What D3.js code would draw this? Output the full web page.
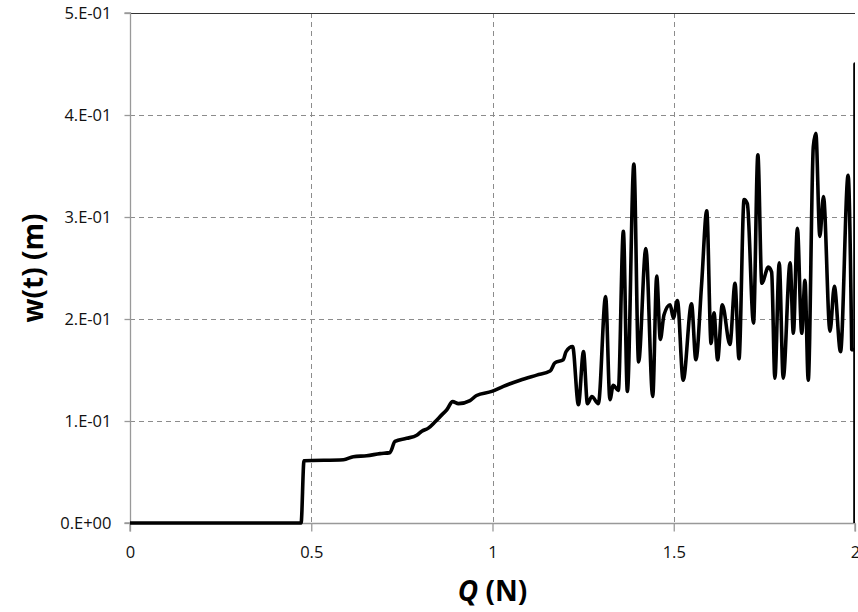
<!DOCTYPE html>
<html><head><meta charset="utf-8">
<script src="https://cdn.jsdelivr.net/npm/d3@7/dist/d3.min.js"></script>
<style>body{margin:0;background:#fff;} svg{display:block;}</style>
</head><body>
<svg id="chart" width="858" height="612"></svg>
<script>
// ---- data ----
const qValues = [0, 0.472, 0.480, 0.589, 0.616, 0.653, 0.690, 0.717, 0.731, 0.763, 0.791, 0.805, 0.823, 0.841, 0.860, 0.874, 0.890, 0.906, 0.938, 0.956, 0.998, 1.030, 1.076, 1.122, 1.159, 1.172, 1.195, 1.203, 1.221, 1.237, 1.251, 1.262, 1.274, 1.292, 1.312, 1.324, 1.333, 1.347, 1.361, 1.372, 1.390, 1.403, 1.423, 1.442, 1.453, 1.463, 1.473, 1.490, 1.499, 1.510, 1.526, 1.549, 1.561, 1.577, 1.591, 1.603, 1.611, 1.621, 1.634, 1.655, 1.669, 1.680, 1.694, 1.703, 1.720, 1.732, 1.743, 1.761, 1.770, 1.779, 1.791, 1.802, 1.821, 1.830, 1.841, 1.853, 1.862, 1.871, 1.885, 1.892, 1.903, 1.913, 1.931, 1.943, 1.960, 1.981, 1.991];
const wValues = [0, 0, 0.061, 0.062, 0.065, 0.066, 0.068, 0.069, 0.080, 0.083, 0.086, 0.090, 0.093, 0.099, 0.106, 0.111, 0.119, 0.117, 0.120, 0.125, 0.129, 0.134, 0.140, 0.145, 0.149, 0.157, 0.160, 0.168, 0.173, 0.116, 0.168, 0.117, 0.124, 0.117, 0.222, 0.121, 0.135, 0.130, 0.286, 0.129, 0.352, 0.158, 0.269, 0.124, 0.242, 0.180, 0.204, 0.214, 0.201, 0.218, 0.140, 0.215, 0.160, 0.235, 0.306, 0.176, 0.206, 0.160, 0.214, 0.175, 0.235, 0.161, 0.317, 0.313, 0.196, 0.361, 0.235, 0.251, 0.246, 0.142, 0.255, 0.142, 0.255, 0.186, 0.289, 0.186, 0.238, 0.140, 0.369, 0.382, 0.281, 0.320, 0.188, 0.232, 0.168, 0.341, 0.170];
// final jump at the right edge (x = 2)
const edgeQ = [1.991, 2.0, 2.0, 2.0];
const edgeW = [0.170, 0.170, 0.450, 0.0];
const xTicks = [0, 0.5, 1, 1.5, 2];
const xTickLabels = ["0", "0.5", "1", "1.5", "2"];
const yTicks = [0, 0.1, 0.2, 0.3, 0.4, 0.5];
const yTickLabels = ["0.E+00", "1.E-01", "2.E-01", "3.E-01", "4.E-01", "5.E-01"];
const xTitleItalic = "Q";
const xTitleRest = " (N)";
const yTitle = "w(t) (m)";

// ---- layout ----
const svg = d3.select("#chart");
const mL = 130, mR = 855, mT = 13, mB = 523;
const x = d3.scaleLinear().domain([0, 2]).range([mL, mR]);
const y = d3.scaleLinear().domain([0, 0.5]).range([mB, mT]);
const font = "'Open Sans', 'Liberation Sans', sans-serif";

// gridlines
const grid = svg.append("g");
grid.selectAll("line.h").data(yTicks.filter(d => d > 0 && d < 0.5)).join("line")
  .attr("x1", mL).attr("x2", mR)
  .attr("y1", d => y(d) + 0.5).attr("y2", d => y(d) + 0.5)
  .attr("stroke", "#8c8c8c").attr("stroke-width", 1).attr("stroke-dasharray", "5,4");
grid.selectAll("line.v").data(xTicks.filter(d => d > 0 && d < 2)).join("line")
  .attr("x1", d => Math.round(x(d)) + 0.5).attr("x2", d => Math.round(x(d)) + 0.5)
  .attr("y1", mT).attr("y2", mB)
  .attr("stroke", "#8c8c8c").attr("stroke-width", 1).attr("stroke-dasharray", "5,4");
// top line
svg.append("line").attr("x1", mL).attr("x2", mR)
  .attr("y1", y(0.5) + 0.5).attr("y2", y(0.5) + 0.5)
  .attr("stroke", "#333").attr("stroke-width", 1.2);

// axes
const yAxis = d3.axisLeft(y).tickValues(yTicks).tickSize(6).tickPadding(13)
  .tickFormat((d, i) => yTickLabels[i]);
const gy = svg.append("g").attr("transform", `translate(${mL + 0.5},0)`).call(yAxis);
const xAxis = d3.axisBottom(x).tickValues(xTicks).tickSize(8).tickPadding(15)
  .tickFormat((d, i) => xTickLabels[i]);
const gx = svg.append("g").attr("transform", `translate(0,${mB + 0.5})`).call(xAxis);
[gx, gy].forEach(g => {
  g.select(".domain").attr("stroke", "#999").attr("stroke-width", 1.3);
  g.selectAll(".tick line").attr("stroke", "#999").attr("stroke-width", 1.3);
  g.selectAll(".tick text").attr("font-family", font).attr("font-size", 16.5).attr("fill", "#111");
});
gy.select(".domain").attr("d", `M-6,${mB}H0V${mT}H-6`);
gx.select(".domain").attr("d", `M${mL},8V0H${mR}V8`);

// clip
svg.append("clipPath").attr("id", "plotclip").append("rect")
  .attr("x", mL).attr("y", mT - 5).attr("width", mR - mL).attr("height", mB - mT + 10);

const pts = qValues.map((q, i) => [q, wValues[i]]);
const line = d3.line().x(d => x(d[0])).y(d => y(d[1])).curve(d3.curveMonotoneX);
svg.append("path").attr("d", line(pts)).attr("clip-path", "url(#plotclip)")
  .attr("fill", "none").attr("stroke", "#000").attr("stroke-width", 3.6)
  .attr("stroke-linejoin", "round").attr("stroke-linecap", "round");
const edgePts = edgeQ.map((q, i) => [q, edgeW[i]]);
const edgeLine = d3.line().x(d => x(d[0])).y(d => y(d[1]));
svg.append("path").attr("d", edgeLine(edgePts)).attr("clip-path", "url(#plotclip)")
  .attr("fill", "none").attr("stroke", "#000").attr("stroke-width", 3.6)
  .attr("stroke-linejoin", "round");

// titles
const xt = svg.append("text").attr("x", (mL + mR) / 2).attr("y", 601)
  .attr("text-anchor", "middle").attr("font-family", font).attr("font-size", 28)
  .attr("font-weight", "bold").attr("fill", "#000");
xt.append("tspan").attr("font-style", "italic").text(xTitleItalic);
xt.append("tspan").text(xTitleRest);
svg.append("text").attr("transform", `translate(43,${(mT + mB) / 2}) rotate(-90)`)
  .attr("text-anchor", "middle").attr("font-family", font).attr("font-size", 28)
  .attr("font-weight", "bold").attr("fill", "#000").text(yTitle);
</script>
</body></html>
